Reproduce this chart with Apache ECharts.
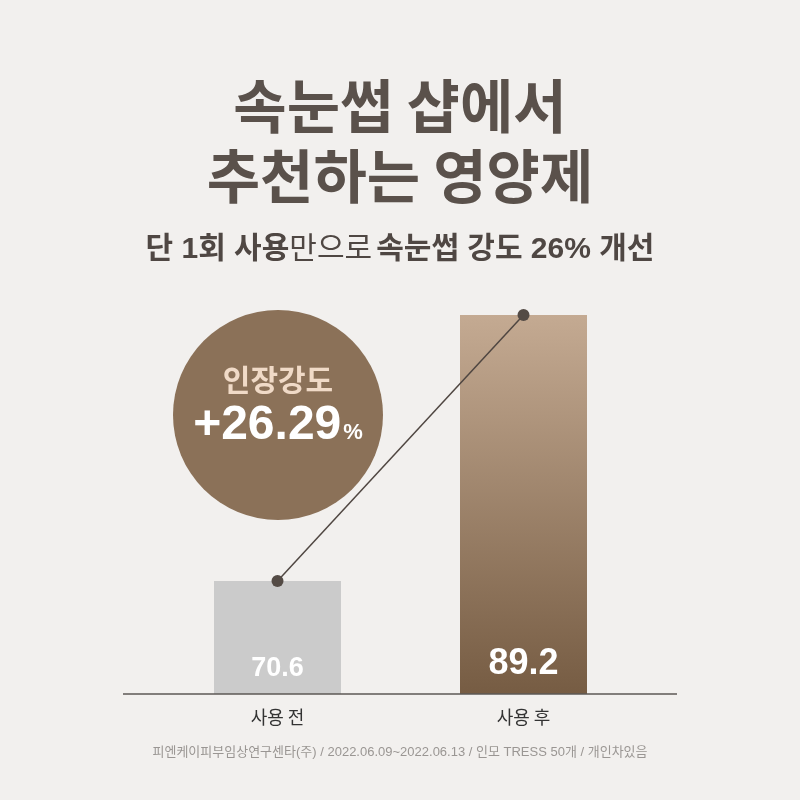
<!DOCTYPE html>
<html><head><meta charset="utf-8">
<script src="https://cdn.jsdelivr.net/npm/echarts@6/dist/echarts.min.js"></script>
<style>html,body{margin:0;padding:0;background:#f2f0ee;}#c{width:800px;height:800px;}</style>
</head><body><div id="c"></div>
<script>
const categories = ['사용 전', '사용 후'];
const strengthValues = [70.6, 89.2];
const increasePct = '+26.29';
const titleLines = ['속눈썹 샵에서', '추천하는 영양제'];
const footnote = '피엔케이피부임상연구센타(주) / 2022.06.09~2022.06.13 / 인모 TRESS 50개 / 개인차있음';

const FONT = '"Noto Sans CJK KR", "Noto Sans", sans-serif';
const MIX = '"Liberation Sans", "Noto Sans CJK KR", sans-serif';
const chart = echarts.init(document.getElementById('c'));
chart.setOption({
  backgroundColor: '#f2f0ee',
  textStyle: { fontFamily: FONT },
  title: [
    { text: titleLines.join('\n'), left: 'center', top: 66,
      textStyle: { fontFamily: FONT, fontSize: 58, fontWeight: 'bold', color: '#5a514b', lineHeight: 70 } },
    { text: '{b|단 1회 사용}{r|만으로} {b|속눈썹 강도 26% 개선}', left: 'center', top: 230,
      textStyle: { rich: {
        b: { fontFamily: MIX, fontSize: 30, fontWeight: 'bold', color: '#4f4743' },
        r: { fontFamily: MIX, fontSize: 30, fontWeight: 'normal', color: '#4f4743' } } } },
    { text: footnote, left: 'center', top: 741,
      textStyle: { fontFamily: MIX, fontSize: 13, fontWeight: 'normal', color: '#9a9693' } }
  ],
  grid: { left: 154.5, right: 153.5, top: 303.6, bottom: 106 },
  xAxis: {
    type: 'category', data: categories,
    axisLine: { show: false }, axisTick: { show: false },
    axisLabel: { fontFamily: FONT, fontSize: 18, color: '#333', margin: 14 }
  },
  yAxis: { type: 'value', min: 62.7, max: 90, show: false, splitLine: { show: false } },
  graphic: [
    { type: 'line', shape: { x1: 123, y1: 694, x2: 677, y2: 694 }, style: { stroke: '#5d5855', lineWidth: 1.5 }, z: 10 },
    { type: 'circle', shape: { cx: 278, cy: 415, r: 105 }, style: { fill: '#8b7158' }, z: 1 },
    { type: 'text', x: 278, y: 380, style: { text: '인장강도', fill: '#f0dac7', font: 'bold 30px ' + FONT, textAlign: 'center', textVerticalAlign: 'middle' }, z: 2 },
    { type: 'text', x: 278, y: 426, style: { text: '{n|' + increasePct + '}{p|%}', textAlign: 'center', textVerticalAlign: 'middle',
        rich: { n: { fontFamily: MIX, fontSize: 48, fontWeight: 'bold', fill: '#fff', color: '#fff' },
                p: { fontFamily: MIX, fontSize: 22, fontWeight: 'bold', fill: '#fff', color: '#fff', padding: [14, 0, 0, 2] } } }, z: 2 }
  ],
  series: [
    {
      type: 'bar', barWidth: 127, z: 2,
      data: [
        { value: strengthValues[0], itemStyle: { color: '#cbcbcb' },
          label: { fontSize: 27 } },
        { value: strengthValues[1], itemStyle: { color: { type: 'linear', x: 0, y: 0, x2: 0, y2: 1,
            colorStops: [{ offset: 0, color: '#c4aa92' }, { offset: 1, color: '#765c43' }] } },
          label: { fontSize: 36 } }
      ],
      label: { show: true, position: 'insideBottom', distance: 12, color: '#fff', fontWeight: 'bold', fontFamily: MIX }
    },
    {
      type: 'line', data: strengthValues, z: 5,
      symbol: 'circle', symbolSize: 12,
      lineStyle: { color: '#4f4641', width: 1.5 },
      itemStyle: { color: '#544b45' }
    }
  ]
});
</script></body></html>
